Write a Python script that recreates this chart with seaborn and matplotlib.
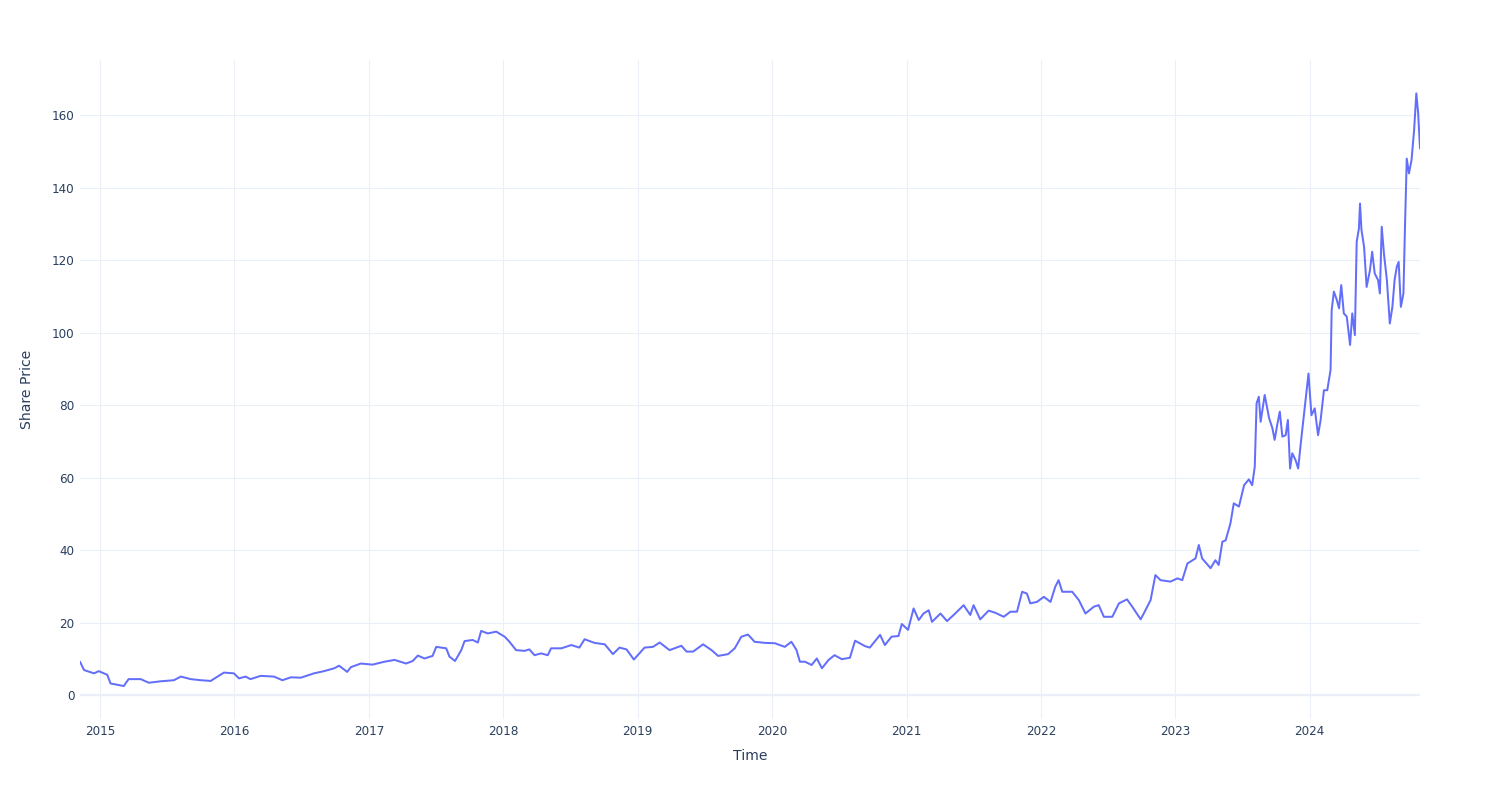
import matplotlib
matplotlib.use("Agg")
import matplotlib.pyplot as plt
import matplotlib.dates as mdates
import seaborn as sns
import pandas as pd

# ---- data ----
dates_2014_2017 = [
    "2014-11-08", "2014-11-19", "2014-12-16", "2014-12-29",
    "2015-01-21", "2015-01-30", "2015-03-07", "2015-03-20", "2015-04-22", "2015-05-14",
    "2015-06-15", "2015-07-21", "2015-08-09", "2015-09-05", "2015-10-02", "2015-10-29",
    "2015-12-04", "2015-12-31",
    "2016-01-14", "2016-02-01", "2016-02-14", "2016-03-13", "2016-04-18", "2016-05-11",
    "2016-06-03", "2016-06-30", "2016-08-05", "2016-09-01", "2016-09-29", "2016-10-12",
    "2016-11-03", "2016-11-13", "2016-12-10",
    "2017-01-11", "2017-02-12", "2017-03-12", "2017-04-12", "2017-04-30", "2017-05-14",
    "2017-06-01", "2017-06-23", "2017-07-03", "2017-07-30", "2017-08-08", "2017-08-23",
    "2017-09-09", "2017-09-18", "2017-10-10", "2017-10-24", "2017-11-02", "2017-11-20",
    "2017-12-13",
]
prices_2014_2017 = [
    9.2, 6.9, 6.0, 6.6,
    5.6, 3.2, 2.5, 4.4, 4.4, 3.4,
    3.8, 4.1, 5.1, 4.4, 4.1, 3.9,
    6.2, 6.0,
    4.6, 5.1, 4.4, 5.3, 5.1, 4.1,
    4.9, 4.8, 6.0, 6.6, 7.4, 8.1,
    6.4, 7.7, 8.7,
    8.4, 9.2, 9.7, 8.7, 9.4, 10.9,
    10.1, 10.8, 13.3, 12.9, 10.6, 9.4,
    12.4, 14.9, 15.2, 14.5, 17.7, 17.0,
    17.5,
]

dates_2018_2020 = [
    "2018-01-05", "2018-01-18", "2018-02-05", "2018-02-28", "2018-03-13", "2018-03-27",
    "2018-04-14", "2018-05-02", "2018-05-11", "2018-06-08", "2018-07-05", "2018-07-27",
    "2018-08-10", "2018-09-06", "2018-10-04", "2018-10-26", "2018-11-13", "2018-12-02",
    "2018-12-22",
    "2019-01-20", "2019-02-12", "2019-03-02", "2019-03-29", "2019-04-30", "2019-05-14",
    "2019-06-01", "2019-06-28", "2019-07-21", "2019-08-08", "2019-09-04", "2019-09-22",
    "2019-10-10", "2019-10-28", "2019-11-15", "2019-12-13",
    "2020-01-09", "2020-02-05", "2020-02-23", "2020-03-08", "2020-03-17", "2020-03-31",
    "2020-04-18", "2020-05-02", "2020-05-16", "2020-06-03", "2020-06-19", "2020-07-09",
    "2020-07-31", "2020-08-14", "2020-09-10", "2020-09-23", "2020-10-21", "2020-11-03",
    "2020-11-21", "2020-12-10", "2020-12-19",
]
prices_2018_2020 = [
    16.1, 14.7, 12.4, 12.2, 12.6, 11.0,
    11.5, 11.0, 12.9, 12.9, 13.8, 13.1,
    15.4, 14.4, 14.0, 11.3, 13.1, 12.6,
    9.8,
    13.1, 13.3, 14.5, 12.4, 13.6, 12.0,
    12.0, 14.0, 12.4, 10.8, 11.3, 12.9,
    16.1, 16.7, 14.7, 14.4,
    14.3, 13.3, 14.7, 12.4, 9.2, 9.2,
    8.3, 10.1, 7.4, 9.7, 11.0, 9.9,
    10.3, 15.0, 13.5, 13.1, 16.6, 13.8,
    16.1, 16.3, 19.6,
]

dates_2021_2022 = [
    "2021-01-05", "2021-01-20", "2021-02-03", "2021-02-16", "2021-03-02", "2021-03-11",
    "2021-04-03", "2021-04-21", "2021-05-13", "2021-06-05", "2021-06-23", "2021-07-02",
    "2021-07-20", "2021-08-12", "2021-08-30", "2021-09-22", "2021-10-10", "2021-10-28",
    "2021-11-11", "2021-11-24", "2021-12-03", "2021-12-21",
    "2022-01-09", "2022-01-27", "2022-02-09", "2022-02-18", "2022-02-28", "2022-03-27",
    "2022-04-14", "2022-05-02", "2022-05-25", "2022-06-07", "2022-06-21", "2022-07-14",
    "2022-08-01", "2022-08-23", "2022-09-06", "2022-09-29", "2022-10-12", "2022-10-26",
    "2022-11-08", "2022-11-22", "2022-12-19",
]
prices_2021_2022 = [
    18.0, 23.9, 20.7, 22.5, 23.4, 20.2,
    22.5, 20.4, 22.5, 24.8, 22.1, 24.8,
    20.9, 23.3, 22.7, 21.6, 23.0, 23.0,
    28.5, 28.0, 25.3, 25.7,
    27.1, 25.7, 29.9, 31.7, 28.5, 28.5,
    26.2, 22.5, 24.4, 24.8, 21.6, 21.6,
    25.3, 26.4, 24.4, 20.9, 23.4, 26.2,
    33.1, 31.7, 31.3,
]

dates_2023_2024 = [
    "2023-01-07", "2023-01-20", "2023-02-03", "2023-02-25", "2023-03-06", "2023-03-15",
    "2023-04-07", "2023-04-20", "2023-04-29", "2023-05-09", "2023-05-18", "2023-05-31",
    "2023-06-09", "2023-06-23", "2023-07-07", "2023-07-20", "2023-07-29", "2023-08-05",
    "2023-08-10", "2023-08-16", "2023-08-21", "2023-09-01", "2023-09-13", "2023-09-22",
    "2023-09-28", "2023-10-05", "2023-10-12", "2023-10-19", "2023-10-28", "2023-11-03",
    "2023-11-09", "2023-11-15", "2023-11-24", "2023-12-01", "2023-12-08", "2023-12-17",
    "2023-12-29",
    "2024-01-06", "2024-01-15", "2024-01-24", "2024-01-31", "2024-02-09", "2024-02-18",
    "2024-02-27", "2024-03-01", "2024-03-07", "2024-03-15", "2024-03-21", "2024-03-27",
    "2024-04-03", "2024-04-11", "2024-04-20", "2024-04-26", "2024-05-03", "2024-05-08",
    "2024-05-14", "2024-05-17", "2024-05-21", "2024-05-28", "2024-06-04", "2024-06-13",
    "2024-06-19", "2024-06-26", "2024-07-05", "2024-07-10", "2024-07-15", "2024-07-21",
    "2024-07-29", "2024-08-06", "2024-08-13", "2024-08-19", "2024-08-25", "2024-08-30",
    "2024-09-05", "2024-09-12", "2024-09-16", "2024-09-21", "2024-09-27", "2024-10-04",
    "2024-10-11", "2024-10-17", "2024-10-22", "2024-10-27",
]
prices_2023_2024 = [
    32.2, 31.7, 36.3, 37.7, 41.4, 37.7,
    35.0, 37.2, 35.9, 42.3, 42.7, 47.4,
    52.9, 52.0, 57.9, 59.5, 57.9, 63.0,
    80.5, 82.3, 75.4, 82.8, 76.4, 73.6,
    70.4, 74.5, 78.2, 71.3, 71.7, 75.9,
    62.5, 66.7, 64.8, 62.5, 69.4, 77.7,
    88.7,
    77.2, 79.1, 71.7, 75.9, 84.1, 84.1,
    89.7, 106.2, 111.3, 109.0, 106.7, 113.1,
    105.3, 104.4, 96.6, 105.3, 99.3, 125.1,
    128.7, 135.6, 128.3, 123.7, 112.6, 117.2,
    122.3, 116.3, 114.5, 110.8, 129.2, 121.8,
    114.5, 102.5, 107.1, 114.5, 118.2, 119.5,
    107.1, 110.8, 128.3, 148.0, 143.9, 147.6,
    155.9, 166.0, 160.5, 150.8,
]

x_title = "Time"
y_title = "Share Price"
y_ticks = [0, 20, 40, 60, 80, 100, 120, 140, 160]

# ---- build the frame ----
df = pd.DataFrame({
    "Time": pd.to_datetime(dates_2014_2017 + dates_2018_2020 + dates_2021_2022 + dates_2023_2024),
    "Share Price": prices_2014_2017 + prices_2018_2020 + prices_2021_2022 + prices_2023_2024,
})

sns.set_theme(style="white")
plt.rcParams["font.family"] = ["DejaVu Sans"]

W, H = 1500, 800
fig = plt.figure(figsize=(W / 100, H / 100), dpi=100)
L, R, T, B = 80, 1420, 60, 719
ax = fig.add_axes([L / W, 1 - B / H, (R - L) / W, (B - T) / H])

grid_c = "#EBF0F8"
text_c = "#2a3f5f"

sns.lineplot(data=df, x="Time", y="Share Price", ax=ax, color="#636EFA",
             linewidth=1.44, zorder=3)

ax.set_xlim(df["Time"].min(), df["Time"].max())
ax.set_ylim(-6.6, 175.2)
ax.set_yticks(y_ticks)
ax.xaxis.set_major_locator(mdates.YearLocator())
ax.xaxis.set_major_formatter(mdates.DateFormatter("%Y"))

ax.grid(True, color=grid_c, linewidth=0.8, zorder=0)
ax.axhline(0, color=grid_c, linewidth=1.6, zorder=1)
for s in ax.spines.values():
    s.set_visible(False)
ax.tick_params(axis="both", length=0, labelsize=8.64, labelcolor=text_c)
ax.tick_params(axis="y", pad=4)
ax.tick_params(axis="x", pad=4)

ax.set_xlabel(x_title, fontsize=10.08, color=text_c)
ax.set_ylabel(y_title, fontsize=10.08, color=text_c)
ax.xaxis.label.set_va("center")
ax.yaxis.label.set_va("center")
ax.xaxis.set_label_coords((750 - L) / (R - L), -(756 - B) / (B - T))
ax.yaxis.set_label_coords(-(L - 27) / (R - L), 0.5)

fig.savefig("out.png", dpi=100, facecolor="white")
